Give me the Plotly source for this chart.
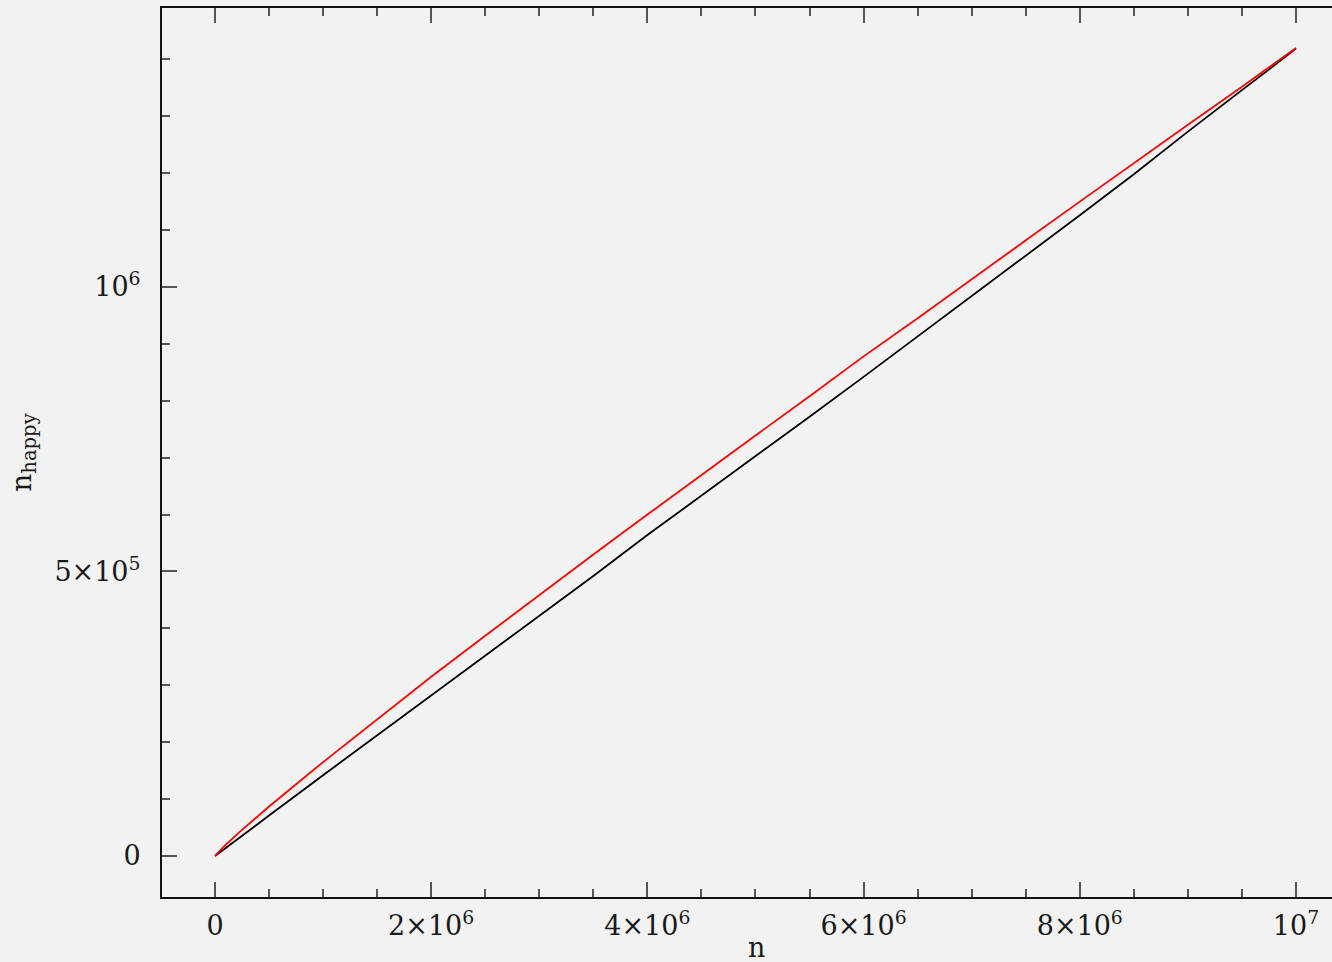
import plotly.graph_objects as go

# n values (in units of 1e6) and counts (in units of 1e6)
n_vals = [0, 0.1, 0.25, 0.5, 1.0, 1.5, 2.0, 2.5, 3.0, 3.5, 4.0, 4.5, 5.0, 5.5,
          6.0, 6.5, 7.0, 7.5, 8.0, 8.5, 9.0, 9.5, 10.0]
happy_count = [0, 0.014, 0.035, 0.071, 0.142, 0.212, 0.283, 0.353, 0.423, 0.492,
               0.564, 0.633, 0.702, 0.772, 0.842, 0.913, 0.983, 1.054, 1.126,
               1.198, 1.273, 1.346, 1.419]
model_count = [0, 0.020, 0.046, 0.087, 0.165, 0.240, 0.315, 0.387, 0.459, 0.530,
               0.600, 0.670, 0.739, 0.808, 0.878, 0.945, 1.014, 1.082, 1.150,
               1.218, 1.285, 1.352, 1.420]

x_tickvals = [0, 2e6, 4e6, 6e6, 8e6, 1e7]
x_ticktext = ["0", "2×10<sup>6</sup>", "4×10<sup>6</sup>", "6×10<sup>6</sup>",
              "8×10<sup>6</sup>", "10<sup>7</sup>"]
y_tickvals = [0, 5e5, 1e6]
y_ticktext = ["0", "5×10<sup>5</sup>", "10<sup>6</sup>"]

x = [v * 1e6 for v in n_vals]
fig = go.Figure()
fig.add_trace(go.Scatter(x=x, y=[v * 1e6 for v in happy_count], mode="lines",
                         line=dict(color="black", width=1.8), showlegend=False))
fig.add_trace(go.Scatter(x=x, y=[v * 1e6 for v in model_count], mode="lines",
                         line=dict(color="#ff0000", width=1.8), showlegend=False))

font = dict(family="DejaVu Serif", size=27, color="#1a1a1a")
axis_common = dict(showline=True, linecolor="#111", linewidth=2, ticks="inside",
                   ticklen=15, tickwidth=2, tickcolor="#555", showgrid=False,
                   zeroline=False, tickfont=font, tickmode="array")

fig.update_xaxes(range=[-0.49e6, 10.333e6], tickvals=x_tickvals, ticktext=x_ticktext,
                 mirror="allticks", ticklabelstandoff=4,
                 minor=dict(ticks="inside", ticklen=8, tickwidth=2, tickcolor="#555",
                            tickmode="linear", tick0=0, dtick=5e5, showgrid=False),
                 **axis_common)
fig.update_yaxes(range=[-0.0721e6, 1.4903e6], tickvals=y_tickvals, ticktext=y_ticktext,
                 mirror=False, ticklabelstandoff=14,
                 title=dict(text="n<sub>happy</sub>",
                            font=dict(family="DejaVu Serif", size=28, color="#1a1a1a"),
                            standoff=15),
                 minor=dict(ticks="inside", ticklen=8, tickwidth=2, tickcolor="#555",
                            tickmode="linear", tick0=0, dtick=1e5, showgrid=False),
                 **axis_common)

fig.add_annotation(text="n", xref="paper", yref="paper", x=0.5077, y=0.0,
                   yshift=-50, showarrow=False, font=font, yanchor="middle")

fig.update_layout(width=1332, height=962, margin=dict(l=162, r=0, t=8, b=65),
                  paper_bgcolor="#f2f2f2", plot_bgcolor="#f2f2f2", font=font)
fig.write_html("out.html", config={"displayModeBar": False},
               post_script="document.body.style.margin='0';document.body.style.overflow='hidden';document.body.style.background='#f2f2f2';")
